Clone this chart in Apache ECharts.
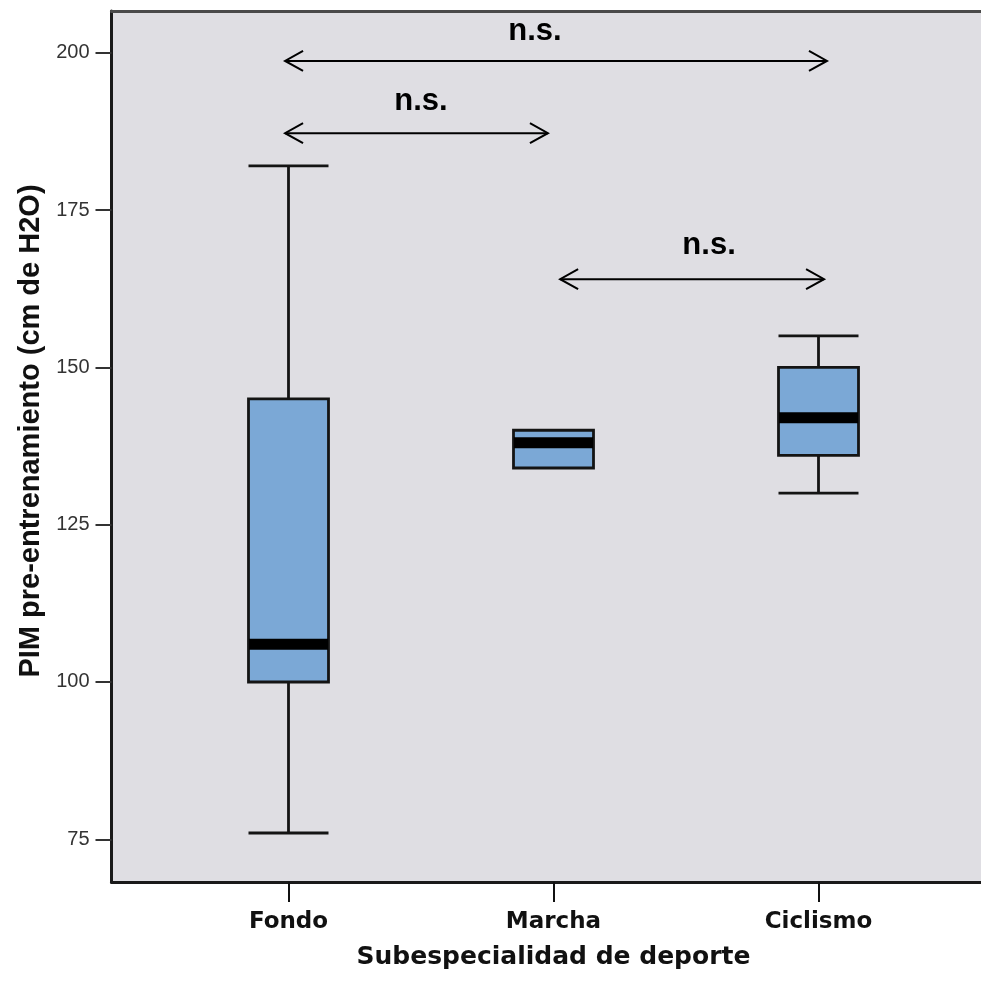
<!DOCTYPE html>
<html>
<head>
<meta charset="utf-8">
<script src="https://cdn.jsdelivr.net/npm/echarts@6/dist/echarts.min.js"></script>
<style>
html,body{margin:0;padding:0;background:#fff;}
#chart{width:981px;height:982px;}
</style>
</head>
<body>
<div id="chart"></div>
<script>
// ---- data ----
const categories = ['Fondo', 'Marcha', 'Ciclismo'];
// [min, Q1, median, Q3, max]
const fondoBox = [76, 100, 106, 145, 182];
const marchaBox = [134, 134, 138, 140, 140];
const ciclismoBox = [130, 136, 142, 150, 155];
const yTicks = [75, 100, 125, 150, 175, 200];
// significance brackets: from category position, to category position, y value
const arrowFrom = [-0.013, -0.013, 1.025];
const arrowTo = [2.032, 0.979, 2.021];
const arrowY = [198.7, 187.2, 164.0];
const sigText = ['n.s.', 'n.s.', 'n.s.'];
const sigX = [0.930, 0.500, 1.587];
const sigY = [203.4, 192.2, 169.3];

const boxData = [fondoBox, marchaBox, ciclismoBox];
const medianData = boxData.map((b, i) => [categories[i], b[2]]);
const arrowData = arrowFrom.map((f, i) => [f, arrowTo[i], arrowY[i]]);
const labelData = sigX.map((x, i) => [x, sigY[i], sigText[i]]);

const frameAxis = (grid, pos, color) => ({
  gridIndex: grid, type: 'value', position: pos, min: 0, max: 1,
  axisLine: {show: true, onZero: false, lineStyle: {color: color, width: 3}},
  axisTick: {show: false}, axisLabel: {show: false}, splitLine: {show: false}
});

const chart = echarts.init(document.getElementById('chart'), null, {renderer: 'canvas'});
const option = {
  backgroundColor: '#ffffff',
  animation: false,
  grid: [
    {left: 111.5, top: 11, right: 0, bottom: 100, show: true,
     backgroundColor: '#dfdee3', borderWidth: 0},
    {left: 156, right: 30, top: 52.7, bottom: 142.7}
  ],
  xAxis: [
    frameAxis(0, 'bottom', '#1a1a1a'),
    {gridIndex: 1, type: 'category', data: categories, offset: 42.7,
     axisLine: {show: false, onZero: false},
     axisTick: {show: true, alignWithLabel: true, length: 20, lineStyle: {color: '#111', width: 2}},
     axisLabel: {margin: 29, color: '#111', fontFamily: 'DejaVu Sans', fontWeight: 'bold', fontSize: 23},
     name: 'Subespecialidad de deporte', nameLocation: 'middle', nameGap: 63,
     nameTextStyle: {color: '#111', fontFamily: 'DejaVu Sans', fontWeight: 'bold', fontSize: 25}},
    {gridIndex: 1, type: 'value', show: false, min: -0.5, max: 2.5},
    frameAxis(0, 'top', '#4a4a4a')
  ],
  yAxis: [
    frameAxis(0, 'left', '#1a1a1a'),
    {gridIndex: 1, type: 'value', min: yTicks[0], max: yTicks[yTicks.length - 1], interval: 25,
     offset: 44.5,
     axisLine: {show: false, onZero: false},
     splitLine: {show: false},
     axisTick: {show: true, length: 16, lineStyle: {color: '#333', width: 2}},
     axisLabel: {margin: 22, color: '#333', fontFamily: 'Liberation Sans', fontSize: 20},
     name: 'PIM pre-entrenamiento (cm de H2O)', nameLocation: 'middle', nameGap: 66,
     nameRotate: 90,
     nameTextStyle: {color: '#111', fontFamily: 'Liberation Sans', fontWeight: 'bold', fontSize: 29,
                     padding: [0, 0, 0, 30]}}
  ],
  series: [
    {
      type: 'boxplot', xAxisIndex: 1, yAxisIndex: 1,
      data: boxData,
      boxWidth: [80, 80],
      itemStyle: {color: '#7ba8d6', borderColor: '#141414', borderWidth: 2.8},
      silent: true
    },
    {
      type: 'scatter', xAxisIndex: 1, yAxisIndex: 1,
      data: medianData,
      symbol: 'rect', symbolSize: [79, 11],
      itemStyle: {color: '#000', opacity: 1},
      silent: true
    },
    {
      type: 'custom', xAxisIndex: 2, yAxisIndex: 1,
      data: arrowData,
      silent: true,
      renderItem: function (params, api) {
        const a = api.coord([api.value(0), api.value(2)]);
        const b = api.coord([api.value(1), api.value(2)]);
        const st = {stroke: '#000', lineWidth: 2, fill: null};
        return {type: 'group', children: [
          {type: 'line', shape: {x1: a[0], y1: a[1], x2: b[0], y2: b[1]}, style: st},
          {type: 'polyline', shape: {points: [[a[0] + 18, a[1] - 10], [a[0], a[1]], [a[0] + 18, a[1] + 10]]}, style: st},
          {type: 'polyline', shape: {points: [[b[0] - 18, b[1] - 10], [b[0], b[1]], [b[0] - 18, b[1] + 10]]}, style: st}
        ]};
      }
    },
    {
      type: 'custom', xAxisIndex: 2, yAxisIndex: 1,
      data: labelData,
      silent: true,
      renderItem: function (params, api) {
        const p = api.coord([api.value(0), api.value(1)]);
        return {type: 'text', x: p[0], y: p[1], style: {
          text: labelData[params.dataIndex][2], fill: '#000',
          font: 'bold 31px "Liberation Sans"', align: 'center', verticalAlign: 'middle'}};
      }
    }
  ]
};
chart.setOption(option);
</script>
</body>
</html>
